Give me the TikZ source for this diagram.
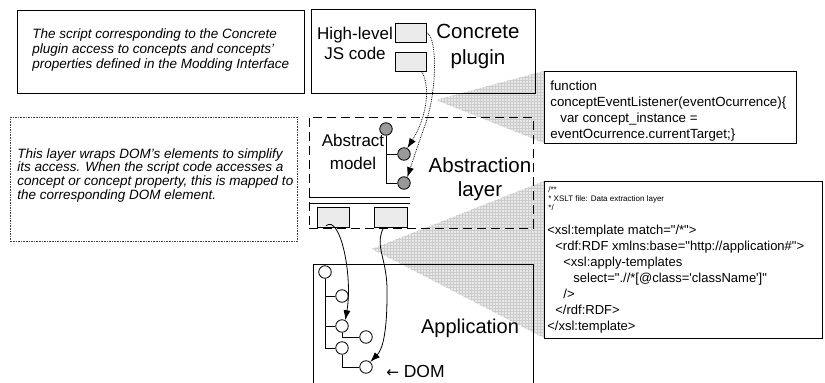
\documentclass[tikz,border=0pt]{standalone}
\usepackage{fontspec}
\setmainfont{Liberation Sans}
\newfontfamily\codefont{Liberation Sans}
\newfontfamily\symfont{DejaVu Sans}
\usetikzlibrary{arrows.meta,patterns}
\begin{document}
\begin{tikzpicture}[x=1pt,y=-1pt,line width=0.8pt]
\tikzset{
  box/.style={draw, inner sep=0pt, anchor=north west},
  jsbox/.style={draw, fill=black!8, inner sep=0pt, anchor=north west, minimum width=31pt, minimum height=19pt},
  amnode/.style={circle, draw, fill=black!40, minimum size=12.5pt, inner sep=0pt},
  domnode/.style={circle, draw, fill=white, minimum size=12.5pt, inner sep=0pt},
  wedge/.style={fill=black!9},
  wedgegrid/.style={pattern=grid, pattern color=black!20},
  flow/.style={-{Latex[length=10pt,width=7pt]}},
  link/.style={densely dotted, -{Latex[length=10pt,width=7pt]}},
  txt/.style={inner sep=0pt}
}
\useasboundingbox (0,0) rectangle (825,383);
% callout wedges
\path[wedge] (436,100) -- (544,71) -- (544,143) -- cycle;
\path[wedgegrid] (436,100) -- (544,71) -- (544,143) -- cycle;
\path[wedge] (372,249) -- (544,181) -- (544,338) -- cycle;
\path[wedgegrid] (372,249) -- (544,181) -- (544,338) -- cycle;
% boxes
\node[box, minimum width=287pt, minimum height=83pt] (note1) at (17,10) {};
\node[box, minimum width=224pt, minimum height=84pt] (concrete) at (311,9) {};
\node[jsbox] (js1) at (395,23) {};
\node[jsbox] (js2) at (395,52) {};
\node[box, dash pattern=on 9pt off 5pt, line width=0.9pt, minimum width=224pt, minimum height=111pt] (abs) at (309,117) {};
\node[box, draw=black!75, dash pattern=on 1.6pt off 1pt, line width=0.7pt, minimum width=287pt, minimum height=124pt] (note2) at (10,117) {};
\draw ([yshift=-80pt]abs.north west) -- ++(101,0);
\draw ([yshift=-86pt]abs.north west) -- ++(101,0);
\node[jsbox, minimum width=32pt, minimum height=20pt] (wrapA) at (317,207) {};
\node[jsbox, minimum width=33pt, minimum height=20pt] (wrapB) at (374,207) {};
\coordinate (appBL) at (313,383);
\coordinate (appBR) at (533,383);
\draw (appBL) -- (313,264) -- (533,264) -- (appBR);
\node[box, fill=white, minimum width=252pt, minimum height=72pt] (code1) at (544,71) {};
\node[box, fill=white, minimum width=278pt, minimum height=157pt] (code2) at (544,181) {};
% abstract model tree
\node[amnode] (AM0) at (386,129) {};
\node[amnode] (AM1) at (404,154) {};
\node[amnode] (AM2) at (404,183) {};
\draw (AM0.south) |- (AM1.west);
\draw (AM0.south) |- (AM2.west);
% DOM tree
\node[domnode] (D0) at (325,272) {};
\node[domnode] (D1) at (342,296) {};
\node[domnode] (D2) at (342,326) {};
\node[domnode] (D3) at (366,337) {};
\node[domnode] (D4) at (342,348) {};
\node[domnode] (D5) at (366,367) {};
\draw (D0.south) |- (D1.west);
\draw (D0.south) |- (D2.west);
\draw (D0.south) |- (D4.west);
\draw (D2.south) |- (D3.west);
\draw (D4.south) |- (D5.west);
% texts
\node[txt, anchor=north west, align=left, font=\fontsize{13.5}{15}\selectfont\itshape] (t1) at (32,28)
  {The script corresponding to the Concrete\\plugin access to concepts and concepts’\\properties defined in the Modding Interface};
\node[txt, anchor=north west, align=left, font=\fontsize{13.5}{13.7}\selectfont\itshape] (t2) at (17,148)
  {This layer wraps DOM’s elements to simplify\\its access. When the script code accesses a\\concept or concept property, this is mapped to\\the corresponding DOM element.};
\node[txt, anchor=north, align=center, font=\fontsize{17}{20}\selectfont] (hl) at (355,26.7) {High-level\\JS code};
\node[txt, anchor=north, align=center, font=\fontsize{20.5}{26}\selectfont] (cp) at (478,23.4) {Concrete\\plugin};
\node[txt, anchor=north, align=center, font=\fontsize{17}{23}\selectfont] (am) at (353,133.7) {Abstract\\model};
\node[txt, anchor=north, align=center, font=\fontsize{20.5}{24}\selectfont] (al) at (480,157.4) {Abstraction\\layer};
\node[txt, anchor=base, font=\fontsize{20}{24}\selectfont] (ap) at (470,333) {Application};
\node[txt, anchor=base west, font=\fontsize{17.5}{20}\selectfont] (dom) at (386,377) {{\symfont\fontsize{15}{18}\selectfont ←} DOM};
\node[txt, anchor=north west, align=left, font=\codefont\fontsize{13.3}{16}\selectfont] (c1) at (550,80)
  {function\\conceptEventListener(eventOcurrence)\{\\\hspace*{10pt}var concept\_instance =\\eventOcurrence.currentTarget;\}};
\node[txt, anchor=north west, align=left, font=\codefont\fontsize{8}{9}\selectfont] (c2a) at (548,186)
  {/**\\* XSLT file: Data extraction layer\\*/};
\node[txt, anchor=north west, align=left, font=\codefont\fontsize{13}{16}\selectfont] (c2b) at (547,225)
  {<xsl:template match="/*">\\\hspace*{8pt}<rdf:RDF xmlns:base="http://application\#">\\\hspace*{16pt}<xsl:apply-templates\\\hspace*{26pt}select=".//*[@class='className']"\\\hspace*{16pt}/>\\\hspace*{8pt}</rdf:RDF>\\</xsl:template>};
% connectors
\draw[link] (js1.east) .. controls (438,38) and (437,95) .. (424,128) .. controls (418,145) and (413,160) .. (AM2.60);
\draw[link] ([xshift=-5pt]js2.south east) .. controls (430,85) and (428,115) .. (AM1.60);
\draw[flow] ([shift={(9,-2)}]wrapA.south west) .. controls (340,214) and (353,275) .. (D2.60);
\draw[flow] ([xshift=-7.5pt]wrapB.south) .. controls (374,248) and (388,258) .. (387,295) .. controls (387,335) and (382,350) .. (D5.50);
\end{tikzpicture}
\end{document}
